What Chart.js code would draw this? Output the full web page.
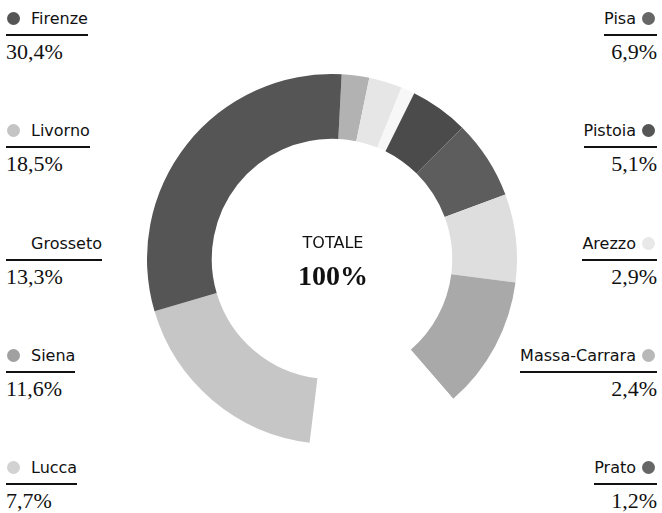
<!DOCTYPE html>
<html>
<head>
<meta charset="utf-8">
<script src="https://cdn.jsdelivr.net/npm/chart.js@4/dist/chart.umd.min.js"></script>
<style>
  html, body { margin: 0; padding: 0; background: #fff; }
  #wrap { position: relative; width: 662px; height: 513px; overflow: hidden; }
  #chartBox { position: absolute; left: 147px; top: 74px; width: 370px; height: 370px; }
  .lab { position: absolute; }
  .lab .name { display: inline-block; border-bottom: 2px solid #111; font-family: "DejaVu Sans", sans-serif; font-size: 16px; color: #111; line-height: 20px; padding-bottom: 5px; white-space: nowrap; }
  .lab .val { font-family: "Liberation Serif", serif; font-size: 22px; color: #111; line-height: 24px; margin-top: 4px; }
  .lab .dot { display: inline-block; width: 13px; height: 13px; border-radius: 50%; vertical-align: -1px; }
  .left { left: 6px; text-align: left; }
  .left .dot { margin-left: 1px; margin-right: 11px; }
  .right { right: 5px; text-align: right; }
  .right .dot { margin-left: 6px; margin-right: 2px; }
  #center { position: absolute; left: 233px; width: 200px; text-align: center; top: 233px; }
  #center .t1 { font-family: "DejaVu Sans", sans-serif; font-size: 16px; color: #111; line-height: 20px; }
  #center .t2 { font-family: "Liberation Serif", serif; font-weight: bold; font-size: 28px; color: #111; line-height: 32px; margin-top: 7px; }
</style>
</head>
<body>
<div id="wrap">
  <div id="chartBox"><canvas id="c"></canvas></div>
  <div id="center"><div class="t1">TOTALE</div><div class="t2">100%</div></div>
</div>
<script>
// Categories in the order the arcs run clockwise from the top
const categories = ["Massa-Carrara", "Arezzo", "Prato", "Pistoia", "Pisa", "Lucca", "Siena", "Grosseto", "Livorno", "Firenze"];
const values = [2.4, 2.9, 1.2, 5.1, 6.9, 7.7, 11.6, 13.3, 18.5, 30.4];
const valueLabels = ["2,4%", "2,9%", "1,2%", "5,1%", "6,9%", "7,7%", "11,6%", "13,3%", "18,5%", "30,4%"];
const arcColors = ["#b2b2b2", "#e6e6e6", "#f7f7f7", "#4b4b4b", "#5d5d5d", "#dedede", "#a9a9a9", "#ffffff", "#c6c6c6", "#555555"];
const markerColors = ["#b8b8b8", "#e8e8e8", "#666666", "#555555", "#666666", "#d2d2d2", "#a0a0a0", "#ffffff", "#c4c4c4", "#555555"];
const leftColumn = ["Firenze", "Livorno", "Grosseto", "Siena", "Lucca"];
const rightColumn = ["Pisa", "Pistoia", "Arezzo", "Massa-Carrara", "Prato"];

new Chart(document.getElementById('c'), {
  type: 'doughnut',
  data: {
    labels: categories,
    datasets: [{
      data: values,
      backgroundColor: arcColors,
      borderWidth: 0,
      hoverOffset: 0
    }]
  },
  options: {
    responsive: true,
    maintainAspectRatio: false,
    animation: false,
    rotation: 3,
    cutout: '65%',
    layout: { padding: 0 },
    plugins: { legend: { display: false }, tooltip: { enabled: false } },
    events: []
  }
});

const wrap = document.getElementById('wrap');
function addLabel(name, col, row) {
  const i = categories.indexOf(name);
  const d = document.createElement('div');
  d.className = 'lab ' + col;
  d.style.top = (9 + row * 112.3) + 'px';
  const dot = '<span class="dot" style="background:' + markerColors[i] + '"></span>';
  const inner = col === 'left' ? dot + name : name + dot;
  d.innerHTML = '<div class="name">' + inner + '</div><div class="val">' + valueLabels[i] + '</div>';
  wrap.appendChild(d);
}
leftColumn.forEach((n, r) => addLabel(n, 'left', r));
rightColumn.forEach((n, r) => addLabel(n, 'right', r));
</script>
</body>
</html>
